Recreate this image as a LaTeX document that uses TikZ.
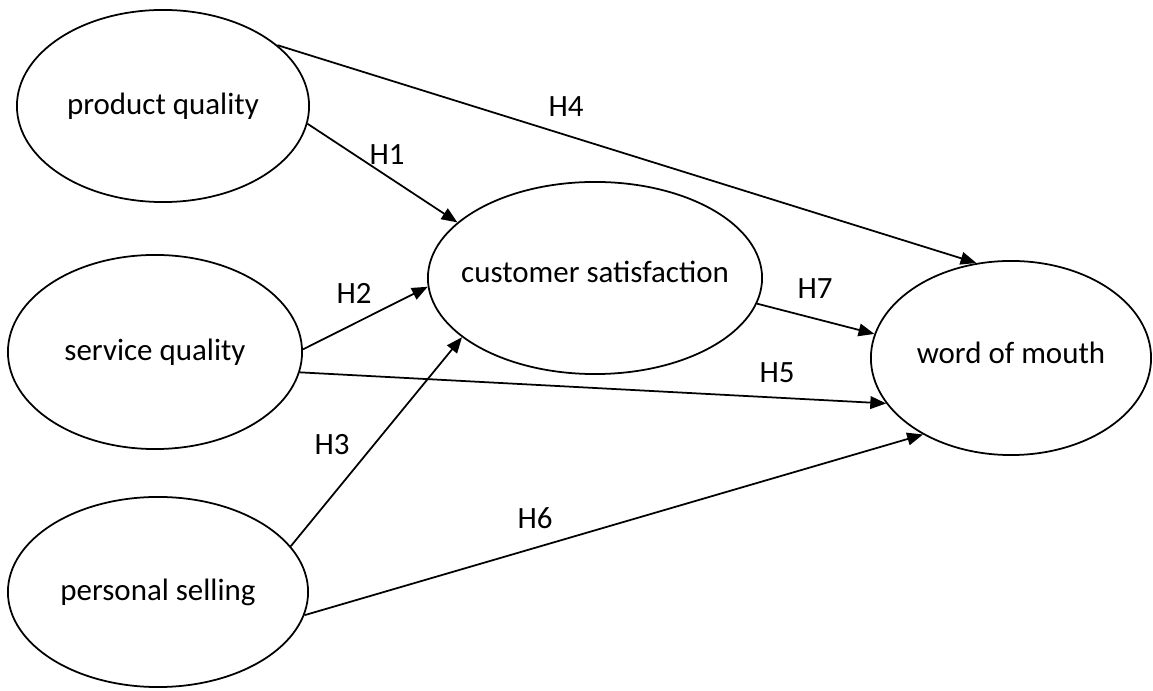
\documentclass[tikz,border=0pt]{standalone}
\usepackage{fontspec}
\setmainfont{Carlito}
\usetikzlibrary{arrows.meta,shapes.geometric}
\tikzset{
  >={Triangle[length=4.5pt,width=3.6pt]},
  construct/.style={draw,ellipse,line width=0.5pt,inner sep=0pt},
  path/.style={->,line width=0.5pt},
  hyp/.style={inner sep=1pt},
}

\begin{document}
\begin{tikzpicture}[x=0.01cm,y=-0.01cm,font=\fontsize{8.8}{10}\selectfont]
	\useasboundingbox (0,0) rectangle (1153,691);
	% Konstrukte
	\node[construct,minimum width=2.92cm,minimum height=1.92cm,label={center:product quality}] (pq) at (163,106) {};
	\node[construct,minimum width=2.94cm,minimum height=1.94cm,label={center:service quality}] (sq) at (155,352) {};
	\node[construct,minimum width=3.00cm,minimum height=1.90cm,label={center:personal selling}] (ps) at (158,592) {};
	\node[construct,minimum width=3.34cm,minimum height=1.92cm,label={[yshift=1.7pt]center:customer satisfaction}] (cs) at (595,278) {};
	\node[construct,minimum width=2.80cm,minimum height=1.94cm,label={[yshift=1.4pt]center:word of mouth}] (wom) at (1011,358) {};
	% Hypothesen
	\draw[path] (pq.-7.5) -- (cs.158);
	\draw[path] (sq.1) -- (cs.183);
	\draw[path] (ps.19) -- (cs.204);
	\draw[path] (pq.28) -- (wom.110);
	\draw[path] (sq.-8) -- (wom.200);
	\draw[path] (ps.-9) -- (wom.221);
	\draw[path] (cs.-9) -- (wom.170);
	% Beschriftungen
	\node[hyp] (h1) at (387,155) {H1};
	\node[hyp] (h2) at (354,293) {H2};
	\node[hyp] (h3) at (332,445) {H3};
	\node[hyp] (h4) at (566,107) {H4};
	\node[hyp] (h5) at (777,373) {H5};
	\node[hyp] (h6) at (535,518) {H6};
	\node[hyp] (h7) at (815,289) {H7};
\end{tikzpicture}
\end{document}
